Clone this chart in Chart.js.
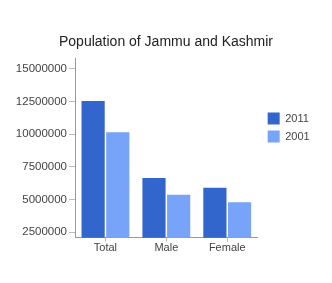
<!DOCTYPE html>
<html>
<head>
<meta charset="utf-8">
<script src="https://cdn.jsdelivr.net/npm/chart.js@4/dist/chart.umd.min.js"></script>
<style>
  html, body { margin: 0; padding: 0; background: #fff; }
  #wrap { width: 332px; height: 283px; }
</style>
</head>
<body>
<div id="wrap"><canvas id="c" width="332" height="283"></canvas></div>
<script>
const chartTitle = "Population of Jammu and Kashmir";
const categories = ["Total", "Male", "Female"];
const seriesLabels = ["2011", "2001"];
const values2011 = [12541302, 6640662, 5900640];
const values2001 = [10143700, 5360926, 4782774];
const yTicks = [2500000, 5000000, 7500000, 10000000, 12500000, 15000000];
const yMin = 2060000;
const yMax = 15780000;

const FONT = "'Liberation Sans', Arial, sans-serif";

// Center the title across the full canvas width (layout padding only shifts the legend)
const fullWidthTitle = {
  id: 'fullWidthTitle',
  afterLayout(chart) {
    if (chart.titleBlock) {
      chart.titleBlock.left = 0;
      chart.titleBlock.right = chart.width;
      chart.titleBlock.width = chart.width;
    }
  }
};

new Chart(document.getElementById('c'), {
  type: 'bar',
  data: {
    labels: categories,
    datasets: [
      { label: seriesLabels[0], data: values2011, backgroundColor: '#3366cc',
        categoryPercentage: 0.81, barPercentage: 0.94 },
      { label: seriesLabels[1], data: values2001, backgroundColor: '#77a4f8',
        categoryPercentage: 0.81, barPercentage: 0.94 }
    ]
  },
  plugins: [fullWidthTitle],
  options: {
    responsive: false,
    animation: false,
    layout: { padding: { left: 0, right: 18, top: 0, bottom: 28 } },
    plugins: {
      title: {
        display: true, text: chartTitle, color: '#222',
        font: { family: FONT, size: 14, weight: 'normal' },
        padding: { top: 34, bottom: 8 }
      },
      legend: {
        position: 'right',
        labels: {
          boxWidth: 12, boxHeight: 12, padding: 6, color: '#444',
          font: { family: FONT, size: 11 }
        }
      },
      tooltip: { enabled: false }
    },
    scales: {
      x: {
        offset: true,
        grid: { display: true, drawOnChartArea: false, drawTicks: true, tickLength: 4, offset: false, color: '#bbb' },
        border: { display: true, color: '#999' },
        ticks: { color: '#444', font: { family: FONT, size: 11 }, padding: 0, maxRotation: 0 }
      },
      y: {
        min: yMin, max: yMax,
        afterBuildTicks: s => { s.ticks = yTicks.map(v => ({ value: v })); },
        afterFit: s => { s.width = 75; },
        grid: { display: true, drawOnChartArea: false, drawTicks: true, tickLength: 6, color: '#bbb' },
        border: { display: true, color: '#999' },
        ticks: { color: '#444', font: { family: FONT, size: 11.5 }, padding: 2,
                 callback: v => String(v) }
      },
      yr: {
        position: 'right', display: true,
        grid: { display: false }, border: { display: false },
        ticks: { display: false },
        afterFit: s => { s.width = 4; }
      }
    }
  }
});
</script>
</body>
</html>
